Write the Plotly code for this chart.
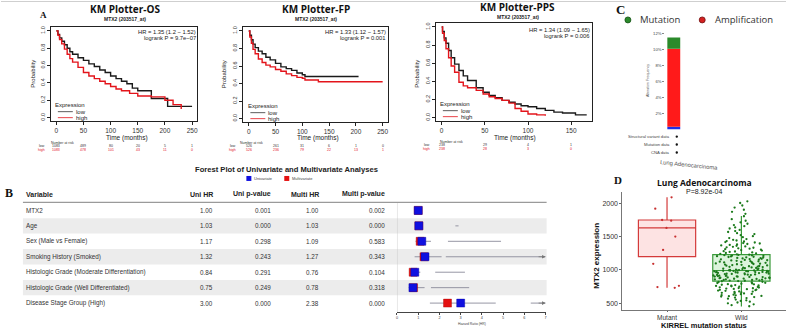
import plotly.graph_objects as go

# ======================= DATA =======================
# Panel A: Kaplan-Meier step points (time in months, survival prob.)
os_low_t = [0, 3, 6, 10, 15, 20, 25, 30, 40, 50, 60, 70, 80, 90, 100, 110, 120, 130, 140, 150, 175, 205, 250]
os_low_s = [1.0, 0.96, 0.92, 0.88, 0.84, 0.80, 0.76, 0.73, 0.69, 0.66, 0.62, 0.59, 0.55, 0.52, 0.48, 0.45, 0.42, 0.39, 0.34, 0.31, 0.22, 0.13, 0.13]
os_high_t = [0, 3, 6, 10, 15, 20, 25, 30, 40, 50, 60, 70, 80, 90, 100, 110, 120, 135, 150, 175, 200, 215, 230]
os_high_s = [1.0, 0.95, 0.90, 0.85, 0.79, 0.73, 0.68, 0.64, 0.58, 0.52, 0.48, 0.45, 0.42, 0.39, 0.36, 0.33, 0.31, 0.28, 0.25, 0.24, 0.20, 0.15, 0.10]

fp_low_t = [0, 2, 5, 8, 12, 18, 25, 32, 40, 50, 60, 70, 80, 90, 100, 105, 205]
fp_low_s = [1.0, 0.95, 0.90, 0.85, 0.81, 0.77, 0.74, 0.70, 0.67, 0.63, 0.59, 0.57, 0.55, 0.52, 0.50, 0.48, 0.48]
fp_high_t = [0, 2, 5, 8, 12, 18, 25, 32, 40, 50, 60, 70, 80, 90, 100, 105, 130, 250]
fp_high_s = [1.0, 0.93, 0.86, 0.79, 0.74, 0.68, 0.64, 0.61, 0.59, 0.56, 0.54, 0.51, 0.49, 0.47, 0.46, 0.44, 0.42, 0.42]

pps_low_t = [0, 1, 3, 5, 8, 11, 15, 20, 25, 30, 40, 48, 55, 62, 70, 78, 85, 92, 100, 110, 120, 130, 140, 155, 168]
pps_low_s = [1.0, 0.95, 0.88, 0.82, 0.74, 0.66, 0.59, 0.52, 0.46, 0.41, 0.33, 0.28, 0.245, 0.22, 0.19, 0.17, 0.15, 0.13, 0.12, 0.10, 0.08, 0.06, 0.05, 0.03, 0.03]
pps_high_t = [0, 1, 3, 5, 8, 11, 15, 20, 25, 30, 40, 48, 55, 62, 70, 78, 85, 92, 100, 110, 120]
pps_high_s = [1.0, 0.93, 0.85, 0.76, 0.66, 0.57, 0.50, 0.39, 0.35, 0.33, 0.30, 0.26, 0.23, 0.21, 0.19, 0.16, 0.10, 0.07, 0.04, 0.03, 0.02]

km_titles = ["KM Plotter-OS", "KM Plotter-FP", "KM Plotter-PPS"]
km_subtitle = "MTX2 (203517_at)"
km_hr = ["HR = 1.35 (1.2 − 1.52)", "HR = 1.33 (1.12 − 1.57)", "HR = 1.34 (1.09 − 1.65)"]
km_p = ["logrank P = 9.7e−07", "logrank P = 0.001", "logrank P = 0.006"]
os_ticks = [0, 50, 100, 150, 200, 250]
fp_ticks = [0, 50, 100, 150, 200, 250]
pps_ticks = [0, 50, 100, 150]
os_risk_low = ["1083", "489", "80", "20", "5", "1"]
os_risk_high = ["1083", "478", "101", "43", "11", "0"]
fp_risk_low = ["526", "261", "31", "6", "1", "0"]
fp_risk_high = ["526", "236", "79", "22", "13", "1"]
pps_risk_low = ["238", "29", "4", "1"]
pps_risk_high = ["238", "28", "3", "0"]
prob_ticks = [0.0, 0.2, 0.4, 0.6, 0.8, 1.0]

# Panel B: forest plot table
variables = ["MTX2", "Age", "Sex (Male vs Female)", "Smoking History (Smoked)",
             "Histologic Grade (Moderate Differentiation)", "Histologic Grade (Well Differentiated)",
             "Disease Stage Group (High)"]
uni_hr = [1.00, 1.03, 1.17, 1.32, 0.84, 0.75, 3.00]
uni_p = ["0.001", "0.000", "0.298", "0.243", "0.291", "0.249", "0.000"]
multi_hr = [1.00, 1.03, 1.09, 1.27, 0.76, 0.78, 2.38]
multi_p = ["0.002", "0.000", "0.583", "0.343", "0.104", "0.318", "0.000"]
ci1_lo = [0.99, 1.02, 0.87, 0.83, 0.60, 0.55, 1.55]
ci1_hi = [1.01, 1.04, 1.60, 2.10, 1.10, 1.30, 4.65]
ci2_lo = [None, 2.75, 2.40, 2.30, 1.80, 1.60, 6.30]
ci2_hi = [None, 2.90, 4.90, 7.00, 3.20, 3.40, 7.00]
arrow_rows = [3, 6]
hr_ticks = [0, 1, 2, 3, 4, 5, 6, 7]

# Panel C: alteration frequency (%)
alt_blue = 0.35
alt_red = 9.8
alt_green = 1.4
alt_ticks = [2, 4, 6, 8, 10, 12]
alt_rows = ["Structural variant data", "Mutation data", "CNA data"]

# Panel D: MTX2 expression by KIRREL mutation status
box_cats = ["Mutant", "Wild"]
mut_stats = dict(q1=1200, median=1630, q3=1750, lo=730, hi=2090)
wild_stats = dict(q1=830, median=990, q3=1230, lo=450, hi=1810)
mutant_expr = [2090, 1920, 1750, 1740, 1630, 1500, 1300, 1090, 760, 740, 730]
wild_expr = [
    452, 468, 481, 497, 509, 521, 533, 541, 552, 566, 575, 583, 591, 598,
    604, 607, 616, 619, 626, 634, 637, 645, 651, 655, 662, 667, 673, 676, 684, 688, 694, 699, 703, 709,
    713, 718, 723, 726, 734, 737, 743, 748, 752, 758, 761, 766, 771, 776, 782, 785, 791, 796, 802, 805,
    811, 817, 821, 828,
    831, 836, 839, 841, 847, 849, 853, 856, 858, 863, 866, 868, 872, 874, 877, 881, 884, 886, 891, 893,
    897, 899, 902, 906, 908, 912, 915, 918, 921, 923, 927, 931, 933, 936, 939, 942, 944, 948, 951, 953,
    957, 959, 962, 966, 968, 971, 973, 976, 978, 981, 983, 985, 987, 989, 990, 986, 979, 964,
    992, 996, 999, 1003, 1008, 1011, 1016, 1019, 1024, 1028, 1033, 1037, 1041, 1046, 1049, 1054, 1058,
    1063, 1066, 1071, 1075, 1079, 1084, 1088, 1093, 1097, 1101, 1106, 1111, 1114, 1119, 1123, 1128,
    1131, 1136, 1141, 1144, 1149, 1153, 1158, 1162, 1166, 1171, 1175, 1179, 1184, 1188, 1193, 1197,
    1202, 1206, 1209, 1213, 1218, 1221, 1225, 1228, 1004,
    1234, 1241, 1248, 1253, 1262, 1269, 1276, 1281, 1289, 1297, 1303, 1311, 1318, 1324, 1332, 1339,
    1346, 1352, 1361, 1367, 1374, 1382, 1389, 1396, 1403, 1411, 1418, 1426, 1433, 1441, 1452, 1463,
    1478, 1492,
    1507, 1521, 1538, 1552, 1569, 1583, 1601, 1622, 1638, 1657, 1674, 1693, 1715, 1738, 1762, 1806,
    1842, 1873, 1904, 1936, 1968, 2005, 2031]
box_ticks = [500, 1000, 1500, 2000]

# ======================= FIGURE =======================
W, H = 787, 330
def PX(x): return x / W
def PY(y): return 1 - y / H

SANS = "Liberation Sans"
TITLE = "Open Sans"
SERIF = "Liberation Serif"
RED = "#e3141b"
fig = go.Figure()
ann, shapes = [], []

def text(x, y, s, size=6, color="#222", bold=False, family=SANS, xanchor="center",
         yanchor="middle", angle=0, xref="paper", yref="paper"):
    if bold:
        s = "<b>" + s + "</b>"
    ann.append(dict(x=PX(x) if xref == "paper" else x, y=PY(y) if yref == "paper" else y,
                    xref=xref, yref=yref, text=s, showarrow=False, textangle=angle,
                    font=dict(size=size, color=color, family=family),
                    xanchor=xanchor, yanchor=yanchor, borderpad=0, borderwidth=0))

def pline(x0, y0, x1, y1, color, width=1):
    shapes.append(dict(type="line", xref="paper", yref="paper", x0=PX(x0), y0=PY(y0),
                       x1=PX(x1), y1=PY(y1), line=dict(color=color, width=width)))

# thin top border
pline(0, 0.5, 787, 0.5, "#cfcfcf", 1)

# ---------- Panel A ----------
km_data = [
    (os_low_t, os_low_s, os_high_t, os_high_s, os_ticks, os_risk_low, os_risk_high),
    (fp_low_t, fp_low_s, fp_high_t, fp_high_s, fp_ticks, fp_risk_low, fp_risk_high),
    (pps_low_t, pps_low_s, pps_high_t, pps_high_s, pps_ticks, pps_risk_low, pps_risk_high),
]
km_layout = [
    dict(frame=(50, 197, 26.5, 120.5), xr=[-10, 260], tcx=124, ty=8, sy=18.3, hrx=195, hry=31,
         legx=54, legy=104, lx0=57, lx1=72, tx=126, ptx=32, nrx=50, nry=142, rlx=44),
    dict(frame=(243, 388, 26.5, 121.5), xr=[-10, 260], tcx=316, ty=8, sy=18.3, hrx=386, hry=31,
         legx=248, legy=105, lx0=250, lx1=265, tx=318, ptx=223, nrx=240, nry=142, rlx=236),
    dict(frame=(436, 593, 22.4, 120.6), xr=[-6.7, 174.7], tcx=518, ty=6, sy=16.2, hrx=590, hry=29,
         legx=440, legy=103, lx0=443, lx1=458, tx=515, ptx=417, nrx=440, nry=141, rlx=430),
]
for k, ((lt, ls, ht, hs, ticks, rl, rh), L) in enumerate(zip(km_data, km_layout)):
    n = "" if k == 0 else str(k + 1)
    fig.add_trace(go.Scatter(x=lt, y=ls, mode="lines", line=dict(color="#1a1a1a", width=1.4, shape="hv"),
                             xaxis="x" + n, yaxis="y" + n, showlegend=False, hoverinfo="skip"))
    fig.add_trace(go.Scatter(x=ht, y=hs, mode="lines", line=dict(color=RED, width=1.4, shape="hv"),
                             xaxis="x" + n, yaxis="y" + n, showlegend=False, hoverinfo="skip"))
    x0, x1, y0, y1 = L["frame"]
    axcommon = dict(showgrid=False, zeroline=False, showline=True, linecolor="#222", linewidth=0.8,
                    mirror=True, ticks="outside", ticklen=3, tickcolor="#222", tickwidth=0.7,
                    tickfont=dict(size=6.5, color="#333", family=SANS))
    fig.update_layout(**{
        "xaxis" + n: dict(domain=[PX(x0), PX(x1)], range=L["xr"], tickvals=ticks, anchor="y" + n, **axcommon),
        "yaxis" + n: dict(domain=[PY(y1), PY(y0)], range=[-0.04, 1.04], tickvals=prob_ticks,
                          ticktext=["%.1f" % v for v in prob_ticks], tickangle=-90, anchor="x" + n,
                          **{**axcommon, "tickfont": dict(size=5.5, color="#333", family=SANS)}),
    })
    text(L["tcx"], L["ty"], km_titles[k], size=10, color="#111", bold=True, family=TITLE)
    text(L["tcx"], L["sy"], km_subtitle, size=5, color="#222", bold=True, family=SANS)
    text(L["hrx"], L["hry"], km_hr[k], size=5.8, color="#222", xanchor="right")
    text(L["hrx"], L["hry"] + 6.5, km_p[k], size=5.8, color="#222", xanchor="right")
    text(L["legx"], L["legy"], "Expression", size=6, color="#222", xanchor="left")
    text(L["lx1"] + 3, L["legy"] + 7, "low", size=6, color="#222", xanchor="left")
    text(L["lx1"] + 3, L["legy"] + 13, "high", size=6, color="#222", xanchor="left")
    pline(L["lx0"], L["legy"] + 7, L["lx1"], L["legy"] + 7, "#333", 0.8)
    pline(L["lx0"], L["legy"] + 13, L["lx1"], L["legy"] + 13, RED, 0.8)
    text(L["tx"], 137, "Time (months)", size=6.5, color="#222")
    text(L["ptx"], 73, "Probability", size=6, color="#222", angle=-90)
    text(L["nrx"], L["nry"], "Number at risk", size=3.5, color="#333", xanchor="left")
    text(L["rlx"], L["nry"] + 3.8, "low", size=3.5, color="#333", xanchor="right")
    text(L["rlx"], L["nry"] + 7.6, "high", size=3.5, color=RED, xanchor="right")
    for tv, a, b in zip(ticks, rl, rh):
        text(tv, L["nry"] + 3.8, a, size=3.5, color="#333", xref="x" + n)
        text(tv, L["nry"] + 7.6, b, size=3.5, color=RED, xref="x" + n)

text(43, 14, "A", size=9, color="#111", bold=True, family=SERIF)

# ---------- Panel C ----------
for val, base, col in [(alt_blue, 0, "#1f2ee6"), (alt_red, alt_blue, "#ff1a1a"),
                       (alt_green, alt_blue + alt_red, "#2b8a2b")]:
    fig.add_trace(go.Bar(x=[0], y=[val], base=[base], width=0.76, marker=dict(color=col, line=dict(width=0)),
                         xaxis="x4", yaxis="y4", showlegend=False, hoverinfo="skip"))
fig.update_layout(
    xaxis4=dict(domain=[PX(666), PX(683)], range=[-0.5, 0.5], visible=False, anchor="y4"),
    yaxis4=dict(domain=[PY(129), PY(29.8)], range=[0, 12.4], tickvals=alt_ticks,
                ticktext=["%d%%" % v for v in alt_ticks], ticks="outside", ticklen=2, tickcolor="#888",
                tickfont=dict(size=4.2, color="#444", family=SANS), showgrid=False, zeroline=False,
                showline=False, anchor="x4"),
)
text(621, 9, "C", size=13, color="#111", bold=True, family=SERIF)
shapes.append(dict(type="circle", xref="paper", yref="paper", x0=PX(625.5), x1=PX(631.5), y0=PY(22), y1=PY(16),
                   fillcolor="#2b8a2b", line=dict(color="#145214", width=0.8)))
shapes.append(dict(type="circle", xref="paper", yref="paper", x0=PX(700), x1=PX(706), y0=PY(22), y1=PY(16),
                   fillcolor="#d42020", line=dict(color="#701010", width=0.8)))
text(641, 19, "Mutation", size=9.5, color="#333", xanchor="left", family=TITLE)
text(716, 19, "Amplification", size=9.5, color="#333", xanchor="left", family=TITLE)
text(648, 80, "Alteration Frequency", size=3.6, color="#555", angle=-90)
for i, lab in enumerate(alt_rows):
    text(671, 136 + 8 * i, lab, size=4.2, color="#444", xanchor="right")
    shapes.append(dict(type="circle", xref="paper", yref="paper", x0=PX(676.3), x1=PX(678.7),
                       y0=PY(137.2 + 8 * i), y1=PY(134.8 + 8 * i), fillcolor="#111", line=dict(width=0)))
text(690, 164, "Lung Adenocarcinoma", size=5.8, color="#555", angle=6)

# ---------- Panel B ----------
nrows = len(variables)
fig.update_layout(
    xaxis5=dict(domain=[PX(397), PX(546)], range=[0, 7], tickvals=hr_ticks, ticks="outside", ticklen=2,
                tickcolor="#444", tickfont=dict(size=3.8, color="#444", family=SANS), showgrid=False,
                zeroline=False, showline=True, linecolor="#444", linewidth=0.6, anchor="y5"),
    yaxis5=dict(domain=[PY(312), PY(202)], range=[6.58, -0.52], visible=False, anchor="x5"),
)
for i in range(nrows):
    if i % 2 == 1:
        shapes.append(dict(type="rect", xref="paper", yref="y5", x0=PX(22), x1=PX(547), y0=i - 0.5, y1=i + 0.5,
                           fillcolor="#ececec", line=dict(width=0), layer="below"))
shapes.append(dict(type="line", xref="x5", yref="y5", x0=0, x1=0, y0=-0.52, y1=6.58,
                   line=dict(color="#c8c8c8", width=0.8), layer="below"))
pline(22, 202, 547, 202, "#9a9a9a", 1.3)

cx, cy = [], []
for i in range(nrows):
    for lo, hi in [(ci1_lo[i], ci1_hi[i]), (ci2_lo[i], ci2_hi[i])]:
        if lo is not None:
            cx += [lo, hi, None]
            cy += [i, i, None]
fig.add_trace(go.Scatter(x=cx, y=cy, mode="lines", line=dict(color="#8a8a9a", width=0.9),
                         xaxis="x5", yaxis="y5", showlegend=False, hoverinfo="skip"))
for r in arrow_rows:
    ann.append(dict(x=7, y=r, ax=6.6, ay=r, xref="x5", yref="y5", axref="x5", ayref="y5", text="",
                    showarrow=True, arrowhead=2, arrowsize=0.9, arrowwidth=0.8, arrowcolor="#777"))
fig.add_trace(go.Scatter(x=multi_hr, y=list(range(nrows)), mode="markers",
                         marker=dict(symbol="square", size=8, color="#e41111", line=dict(color="#a00", width=0.4)),
                         xaxis="x5", yaxis="y5", showlegend=False, hoverinfo="skip"))
fig.add_trace(go.Scatter(x=uni_hr, y=list(range(nrows)), mode="markers",
                         marker=dict(symbol="square", size=8, color="#1010e0", line=dict(color="#0000a0", width=0.4)),
                         xaxis="x5", yaxis="y5", showlegend=False, hoverinfo="skip"))

text(8, 193, "B", size=12, color="#111", bold=True, family=SERIF)
text(286, 169, "Forest Plot of Univariate and Multivariate Analyses", size=7.6, color="#222", bold=True)
shapes.append(dict(type="rect", xref="paper", yref="paper", x0=PX(246), x1=PX(251), y0=PY(180.5), y1=PY(175.5),
                   fillcolor="#1010e0", line=dict(width=0)))
shapes.append(dict(type="rect", xref="paper", yref="paper", x0=PX(284), x1=PX(289), y0=PY(180.5), y1=PY(175.5),
                   fillcolor="#e41111", line=dict(width=0)))
text(254, 178, "Univariate", size=4, color="#444", xanchor="left")
text(292, 178, "Multivariate", size=4, color="#444", xanchor="left")

col_right = [213, 271, 319, 385]
headers = ["Uni HR", "Uni p-value", "Multi HR", "Multi p-value"]
text(25, 194, "Variable", size=7, color="#222", bold=True, xanchor="left")
for xr, h in zip(col_right, headers):
    text(xr, 194, h, size=7, color="#222", bold=True, xanchor="right")
for i in range(nrows):
    rowvals = ["%.2f" % uni_hr[i], uni_p[i], "%.2f" % multi_hr[i], multi_p[i]]
    text(25, i, variables[i], size=6.3, color="#333", xanchor="left", yref="y5")
    for xr, v in zip(col_right, rowvals):
        text(xr, i, v, size=6.3, color="#333", xanchor="right", yref="y5")
text(472, 323.5, "Hazard Ratio (HR)", size=3.4, color="#444")

# ---------- Panel D ----------
for pos, st, lc, fc in [(1, mut_stats, "#d43a3a", "rgba(240,80,80,0.16)"),
                        (2, wild_stats, "#3a9a3a", "rgba(80,200,80,0.20)")]:
    fig.add_trace(go.Box(x=[pos], q1=[st["q1"]], median=[st["median"]], q3=[st["q3"]],
                         lowerfence=[st["lo"]], upperfence=[st["hi"]], width=0.77, whiskerwidth=0,
                         line=dict(color=lc, width=1.2), fillcolor=fc, boxpoints=False,
                         xaxis="x6", yaxis="y6", showlegend=False, hoverinfo="skip"))
for pos, vals, mc, jit in [(1, mutant_expr, "#c83030", 0.6), (2, wild_expr, "#1b7a1b", 1.0)]:
    fig.add_trace(go.Box(x=[pos] * len(vals), y=vals, boxpoints="all", jitter=jit, pointpos=0, width=0.76,
                         line=dict(width=0, color="rgba(0,0,0,0)"), fillcolor="rgba(0,0,0,0)", whiskerwidth=0,
                         marker=dict(size=2.3, color=mc, line=dict(width=0)),
                         xaxis="x6", yaxis="y6", showlegend=False, hoverinfo="skip"))
fig.update_layout(
    xaxis6=dict(domain=[PX(623), 1.0], range=[0.4, 2.6], tickvals=[1, 2], ticktext=box_cats,
                ticks="outside", ticklen=1, tickcolor="#666", showline=True, linecolor="#777", linewidth=1,
                showgrid=False, zeroline=False, tickfont=dict(size=6.5, color="#333", family=SANS), anchor="y6"),
    yaxis6=dict(domain=[PY(310), PY(191.5)], range=[395, 2172], tickvals=box_ticks,
                ticks="outside", ticklen=2, tickcolor="#666", showline=True, linecolor="#777", linewidth=1,
                showgrid=False, zeroline=False, tickfont=dict(size=7, color="#333", family=SANS), anchor="x6"),
)
text(619, 180, "D", size=11, color="#111", bold=True, family=SERIF)
text(705, 182, "Lung Adenocarcinoma", size=8.5, color="#111", bold=True, family=TITLE)
text(705, 191, "P=8.92e-04", size=7, color="#222")
text(597, 255, "MTX2 expression", size=8, color="#111", bold=True, angle=-90)
text(705, 325, "KIRREL mutation status", size=7.5, color="#111", bold=True)

fig.update_layout(width=W, height=H, margin=dict(l=0, r=0, t=0, b=0), paper_bgcolor="white",
                  plot_bgcolor="white", showlegend=False, boxmode="overlay", barmode="overlay",
                  annotations=ann, shapes=shapes)
fig.write_html("out.html", config={"displayModeBar": False},
               post_script="document.body.style.margin='0';document.body.style.overflow='hidden';")
